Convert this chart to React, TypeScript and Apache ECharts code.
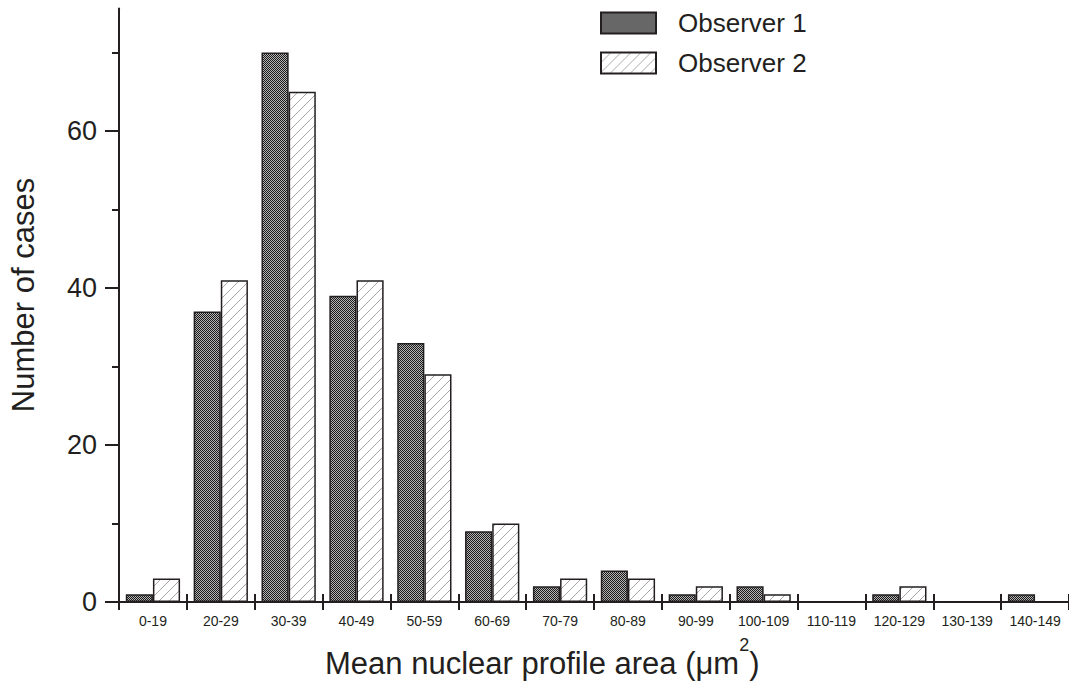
import React, { useEffect, useRef } from "react";
import * as echarts from "echarts";

const categories = [
  "0-19", "20-29", "30-39", "40-49", "50-59", "60-69", "70-79",
  "80-89", "90-99", "100-109", "110-119", "120-129", "130-139", "140-149",
];
const observer1 = [1, 37, 70, 39, 33, 9, 2, 4, 1, 2, 0, 1, 0, 1];
const observer2 = [3, 41, 65, 41, 29, 10, 3, 3, 2, 1, 0, 2, 0, 0];
const yMajorTicks = [0, 20, 40, 60];
const yMinorTicks = [10, 30, 50, 70];
const seriesNames = ["Observer 1", "Observer 2"];

const INK = "#231f20";
const FONT = "'Liberation Sans', Arial, sans-serif";

function makeChecker(): HTMLCanvasElement {
  const c = document.createElement("canvas");
  c.width = 2;
  c.height = 2;
  const ctx = c.getContext("2d")!;
  ctx.fillStyle = "#b4b4b4";
  ctx.fillRect(0, 0, 2, 2);
  ctx.fillStyle = "#1a1a1a";
  ctx.fillRect(0, 0, 1, 1);
  ctx.fillRect(1, 1, 1, 1);
  return c;
}

function makeHatch(): HTMLCanvasElement {
  const s = 10;
  const c = document.createElement("canvas");
  c.width = s;
  c.height = s;
  const ctx = c.getContext("2d")!;
  ctx.fillStyle = "#ffffff";
  ctx.fillRect(0, 0, s, s);
  ctx.strokeStyle = "#a8a8a8";
  ctx.lineWidth = 1;
  ctx.beginPath();
  ctx.moveTo(-1, s + 1);
  ctx.lineTo(s + 1, -1);
  ctx.stroke();
  return c;
}

export default function App() {
  const ref = useRef<HTMLDivElement>(null);

  useEffect(() => {
    if (!ref.current) return;
    const chart = echarts.init(ref.current, null, { renderer: "svg" });
    const checker = { image: makeChecker(), repeat: "repeat" };
    const hatch = { image: makeHatch(), repeat: "repeat" };

    const option: any = {
      animation: false,
      backgroundColor: "#ffffff",
      textStyle: { fontFamily: FONT },
      grid: {
        left: 119,
        right: 0,
        top: 8.5,
        bottom: 87,
        containLabel: false,
        outerBoundsMode: "none",
      },
      legend: {
        data: seriesNames,
        orient: "vertical",
        left: 600,
        top: 10,
        padding: 0,
        itemWidth: 55,
        itemHeight: 21,
        itemGap: 14,
        icon: "rect",
        textStyle: {
          fontSize: 26,
          color: INK,
          fontFamily: FONT,
          padding: [0, 0, 0, 17],
        },
      },
      xAxis: [
        {
          type: "category",
          data: categories,
          position: "bottom",
          axisLine: { show: true, lineStyle: { color: INK, width: 2 } },
          axisTick: { show: true, inside: false, length: 8, lineStyle: { color: INK, width: 2 } },
          axisLabel: { fontSize: 14, color: INK, margin: 12, fontFamily: FONT, interval: 0 },
          splitLine: { show: false },
        },
        {
          type: "category",
          data: categories,
          position: "bottom",
          axisLine: { show: false },
          axisTick: { show: true, inside: true, length: 8, lineStyle: { color: INK, width: 2 } },
          axisLabel: { show: false },
          splitLine: { show: false },
        },
      ],
      yAxis: [
        {
          type: "value",
          min: 0,
          max: 75.6,
          interval: 20,
          position: "left",
          axisLine: { show: true, lineStyle: { color: INK, width: 2 } },
          axisTick: {
            show: true,
            length: 14,
            customValues: yMajorTicks,
            lineStyle: { color: INK, width: 2 },
          },
          axisLabel: {
            customValues: yMajorTicks,
            fontSize: 27,
            color: INK,
            margin: 22,
            fontFamily: FONT,
          },
          splitLine: { show: false },
        },
        {
          type: "value",
          min: 0,
          max: 75.6,
          interval: 10,
          position: "left",
          axisLine: { show: false },
          axisTick: {
            show: true,
            length: 7,
            customValues: yMinorTicks,
            lineStyle: { color: INK, width: 2 },
          },
          axisLabel: { show: false },
          splitLine: { show: false },
        },
      ],
      series: [
        {
          name: seriesNames[0],
          type: "bar",
          xAxisIndex: 0,
          yAxisIndex: 0,
          data: observer1,
          barGap: "0%",
          barCategoryGap: "20%",
          itemStyle: { color: checker, borderColor: INK, borderWidth: 1.5 },
        },
        {
          name: seriesNames[1],
          type: "bar",
          xAxisIndex: 0,
          yAxisIndex: 0,
          data: observer2,
          barGap: "0%",
          barCategoryGap: "20%",
          itemStyle: { color: hatch, borderColor: INK, borderWidth: 1.5 },
        },
      ],
      graphic: [
        {
          type: "line",
          shape: { x1: 105, y1: 602, x2: 120, y2: 602 },
          style: { stroke: INK, lineWidth: 2 },
          silent: true,
        },
        {
          type: "text",
          x: 23,
          y: 295,
          rotation: Math.PI / 2,
          style: {
            text: "Number of cases",
            fontSize: 31,
            fontFamily: FONT,
            fill: INK,
            textAlign: "center",
            textVerticalAlign: "middle",
          },
          silent: true,
        },
        {
          type: "text",
          x: 325,
          y: 656,
          style: {
            text: "{a|Mean nuclear profile area (\u03bcm}{s|2}{a|)}",
            fontFamily: FONT,
            fill: INK,
            textAlign: "left",
            textVerticalAlign: "middle",
            rich: {
              a: { fontSize: 31, fontFamily: FONT, fill: INK, verticalAlign: "bottom" },
              s: { fontSize: 18, fontFamily: FONT, fill: INK, verticalAlign: "top", padding: [2, 0, 25, 0] },
            },
          },
          silent: true,
        },
      ],
    };

    chart.setOption(option);
    return () => chart.dispose();
  }, []);

  return (
    <div
      ref={ref}
      style={{ position: "absolute", left: 0, top: 0, width: 1069, height: 689 }}
    />
  );
}
